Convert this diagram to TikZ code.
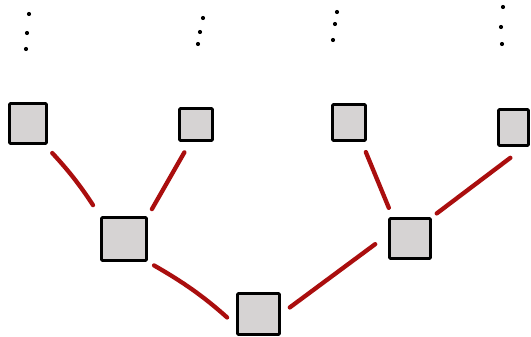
\documentclass[tikz,border=0pt]{standalone}
\usepackage{tikz}
\definecolor{cellgray}{RGB}{214,211,211}
\definecolor{linkred}{RGB}{170,14,14}
\tikzset{%
	cell/.style={draw, rectangle, line width=2.9pt, fill=cellgray, inner sep=0mm,%
		line join=round, rounded corners=1pt},
	link/.style={draw=linkred, line width=4.3pt, line cap=round}
}

\begin{document}
\begin{tikzpicture}[x=1pt, y=-1pt]
	\useasboundingbox (0,0) rectangle (531,337);

	% top row
	\node[cell, minimum width=37pt, minimum height=40pt] (l1) at (28,123.5) {};
	\node[cell, minimum width=33pt, minimum height=32pt] (l2) at (196,124.5) {};
	\node[cell, minimum width=33pt, minimum height=36pt] (l3) at (349,122.5) {};
	\node[cell, minimum width=30pt, minimum height=36pt] (l4) at (513.5,127.5) {};
	% middle row and root
	\node[cell, minimum width=45pt, minimum height=43pt] (m1) at (124,239) {};
	\node[cell, minimum width=41pt, minimum height=40pt] (m2) at (410,238.5) {};
	\node[cell, minimum width=42pt, minimum height=41pt] (r) at (258.5,314) {};

	% vertical dots above each column
	\foreach \x/\y in {29/14, 27/33, 26/49, 203/18, 200/32, 198/44,%
		337/12, 335/24, 333/40, 503/7, 501/27, 502/44}
		\fill (\x,\y) circle (2.1pt);

	\draw[link, bend left=5, shorten <=11pt, shorten >=13pt] (l1.-52) to (m1.north west);
	\draw[link, shorten <=12pt, shorten >=8pt] (l2.-108) to (m1.north east);
	\draw[link, bend left=6, shorten <=7pt, shorten >=12pt] (m1.south east) to (r.-153);
	\draw[link, shorten <=11pt, shorten >=16pt] (r.east) to (m2.170);
	\draw[link, shorten <=11pt, shorten >=10pt] (l3.-57) to (m2.129);
	\draw[link, shorten <=18pt, shorten >=6pt] (l4.-60) to (m2.north east);
\end{tikzpicture}
\end{document}
